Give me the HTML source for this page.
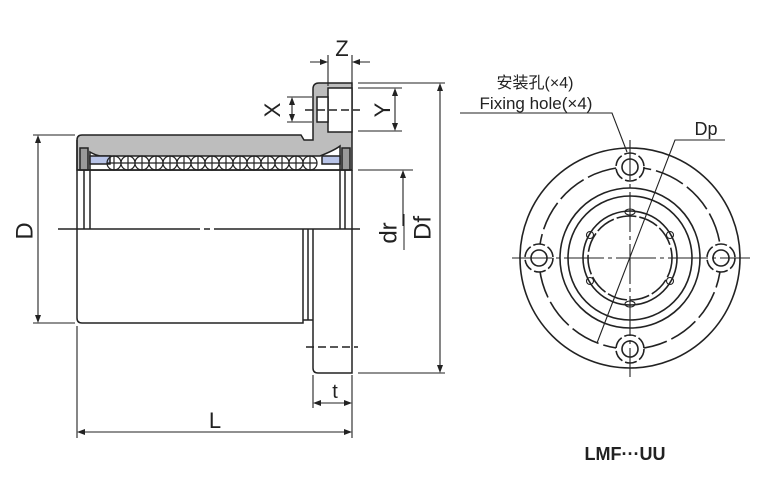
<!DOCTYPE html>
<html><head><meta charset="utf-8"><style>
html,body{margin:0;padding:0;background:#fff;}
svg{display:block}
text{font-family:"Liberation Sans","Noto Sans CJK SC",sans-serif;fill:#222}
</style></head><body>
<svg width="766" height="490" viewBox="0 0 766 490" xmlns="http://www.w3.org/2000/svg">
<g stroke="#222" stroke-width="1.5" fill="none">
<path d="M77,140 Q77,135 82,135 L301,135 L304,140 L313,140 L313,89 Q313,83 319,83 L352,83 L352,170 L77,170 Z" fill="#bdbdbd"/>
<rect x="328" y="88" width="24" height="44" fill="#fff"/>
<rect x="317" y="97" width="11" height="25" fill="#fff"/>
<path d="M90,152 Q95,155 100,156 L320,156 Q335,150 340,146 L340,170 L90,170 Z" fill="#fff"/>
<rect x="90" y="156" width="20" height="8" fill="#b8c4e8"/>
<rect x="322" y="156" width="18" height="8" fill="#b8c4e8"/>
<rect x="80" y="148" width="8" height="22" fill="#9a9a9a"/>
<rect x="342" y="148" width="8" height="22" fill="#9a9a9a"/>
<g stroke-width="1.2">
<circle cx="114" cy="163" r="7"/><circle cx="128" cy="163" r="7"/><circle cx="142" cy="163" r="7"/><circle cx="156" cy="163" r="7"/><circle cx="170" cy="163" r="7"/><circle cx="184" cy="163" r="7"/><circle cx="198" cy="163" r="7"/><circle cx="212" cy="163" r="7"/><circle cx="226" cy="163" r="7"/><circle cx="240" cy="163" r="7"/><circle cx="254" cy="163" r="7"/><circle cx="268" cy="163" r="7"/><circle cx="282" cy="163" r="7"/><circle cx="296" cy="163" r="7"/><circle cx="310" cy="163" r="7"/>
<path d="M107,163 H317 M114,156v14 M128,156v14 M142,156v14 M156,156v14 M170,156v14 M184,156v14 M198,156v14 M212,156v14 M226,156v14 M240,156v14 M254,156v14 M268,156v14 M282,156v14 M296,156v14 M310,156v14"/>
</g>
<line x1="77" y1="140" x2="77" y2="229"/>
<line x1="84" y1="170" x2="84" y2="229"/><line x1="90" y1="170" x2="90" y2="229"/>
<line x1="340" y1="170" x2="340" y2="229"/><line x1="345" y1="170" x2="345" y2="229"/>
<line x1="352" y1="170" x2="352" y2="229"/>
<line x1="77" y1="170" x2="352" y2="170"/>
<path d="M77,229 L77,318 Q77,323 82,323 L303,323 L303,229"/>
<path d="M303,320 L313,320"/>
<line x1="308" y1="229" x2="308" y2="320"/>
<path d="M313,229 L313,368 Q313,373 318,373 L352,373 L352,229"/>
<path d="M306,347 H358" stroke-dasharray="8,4"/>
<path d="M305,110 H360" stroke-dasharray="8,4"/>
<path d="M58,229 H200 M204,229 H210 M214,229 H360"/>
<g stroke-width="1.1">
<path d="M33,135 H75 M33,323 H75 M38,138 V320"/>
<path d="M358,83 H445 M358,373 H445 M440,86 V370"/>
<path d="M358,170 H413 M403,173 V226"/>
<path d="M77,326 V438 M352,375 V438 M80,432 H349"/>
<path d="M313,375 V408 M316,403 H349"/>
<path d="M328,55 V86 M352,55 V86 M310,62 H325 M355,62 H370"/>
<path d="M287,97 H312 M287,122 H312 M292,100 V119"/>
<path d="M358,88 H402 M358,131 H402 M395,91 V128"/>
</g>
<g fill="#222" stroke="none">
<path d="M38,135 l-3,8 h6z M38,323 l-3,-8 h6z"/>
<path d="M440,83 l-3,8 h6z M440,373 l-3,-8 h6z"/>
<path d="M403,170 l-3,8 h6z"/>
<path d="M77,432 l8,-3 v6z M352,432 l-8,-3 v6z"/>
<path d="M313,403 l8,-3 v6z M352,403 l-8,-3 v6z"/>
<path d="M328,62 l-8,-3 v6z M352,62 l8,-3 v6z"/>
<path d="M292,97 l-3,8 h6z M292,122 l-3,-8 h6z"/>
<path d="M395,88 l-3,8 h6z M395,131 l-3,-8 h6z"/>
</g>
</g>
<text x="342" y="56" font-size="22" text-anchor="middle">Z</text>
<text x="274" y="110" font-size="22" text-anchor="middle" transform="rotate(-90 274 110)" dominant-baseline="middle">X</text>
<text x="384" y="110" font-size="22" text-anchor="middle" transform="rotate(-90 384 110)" dominant-baseline="middle">Y</text>
<text x="26" y="231" font-size="24" text-anchor="middle" transform="rotate(-90 26 231)" dominant-baseline="middle">D</text>
<text x="390" y="233" font-size="24" text-anchor="middle" transform="rotate(-90 390 233)" dominant-baseline="middle">dr</text>
<text x="424" y="228" font-size="24" text-anchor="middle" transform="rotate(-90 424 228)" dominant-baseline="middle">Df</text>
<line x1="404" y1="214" x2="404" y2="250" stroke="#222" stroke-width="1"/>
<text x="335" y="398" font-size="20" text-anchor="middle">t</text>
<text x="215" y="428" font-size="22" text-anchor="middle">L</text>

<g stroke="#222" stroke-width="1.6" fill="none">
<circle cx="630" cy="258" r="110"/>
<circle cx="630" cy="258" r="91" stroke-dasharray="30,5"/>
<circle cx="630" cy="258" r="70"/>
<circle cx="630" cy="258" r="62"/>
<circle cx="630" cy="258" r="47"/>
<circle cx="630" cy="258" r="42" stroke-dasharray="20,3"/>
<g fill="#fff">
<circle cx="630" cy="167" r="14" stroke-dasharray="12,3"/><circle cx="630" cy="167" r="8"/>
<circle cx="630" cy="349" r="14" stroke-dasharray="12,3"/><circle cx="630" cy="349" r="8"/>
<circle cx="539" cy="258" r="14" stroke-dasharray="12,3"/><circle cx="539" cy="258" r="8"/>
<circle cx="721" cy="258" r="14" stroke-dasharray="12,3"/><circle cx="721" cy="258" r="8"/>
</g>
<g stroke-width="1.1">
<ellipse cx="630" cy="212" rx="5" ry="3"/><ellipse cx="630" cy="304" rx="5" ry="3"/>
<circle cx="590" cy="235" r="3.5"/><circle cx="670" cy="235" r="3.5"/>
<circle cx="590" cy="281" r="3.5"/><circle cx="670" cy="281" r="3.5"/>
</g>
<path d="M512,258 H750 M630,140 V377" stroke-width="1.1" stroke-dasharray="40,4,4,4"/>
<path d="M460,113 H612 L627,152" stroke-width="1.1"/>
<path d="M725,140 H675 L597,343" stroke-width="1.1"/>
</g>
<text x="535" y="88" font-size="16" text-anchor="middle">安装孔(×4)</text>
<text x="536" y="109" font-size="17" text-anchor="middle">Fixing hole(×4)</text>
<text x="706" y="135" font-size="18" text-anchor="middle">Dp</text>
<text x="625" y="460" font-size="18" font-weight="bold" text-anchor="middle">LMF···UU</text>
</svg>
</body></html>
